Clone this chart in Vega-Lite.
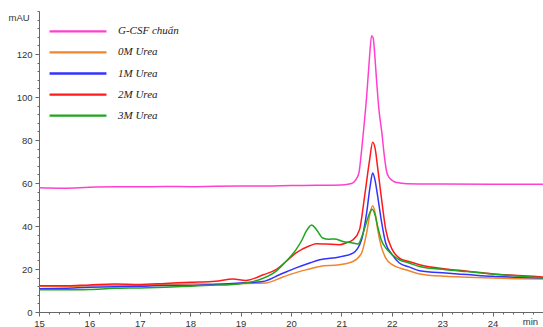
{
  "$schema": "https://vega.github.io/schema/vega-lite/v6.json",
  "width": 504,
  "height": 301,
  "autosize": {"type": "none"},
  "padding": {"left": 39, "top": 11, "right": 0, "bottom": 15},
  "background": "white",
  "config": {"view": {"stroke": null}},
  "data": {
    "values": [
      {"s":"G-CSF chuẩn","t":15,"v":57.8},{"s":"G-CSF chuẩn","t":15.5,"v":57.6},{"s":"G-CSF chuẩn","t":16,"v":58.0},{"s":"G-CSF chuẩn","t":16.5,"v":58.2},{"s":"G-CSF chuẩn","t":17,"v":58.2},{"s":"G-CSF chuẩn","t":17.5,"v":58.4},{"s":"G-CSF chuẩn","t":18,"v":58.3},{"s":"G-CSF chuẩn","t":18.5,"v":58.5},{"s":"G-CSF chuẩn","t":19,"v":58.6},{"s":"G-CSF chuẩn","t":19.5,"v":58.6},{"s":"G-CSF chuẩn","t":20,"v":58.8},{"s":"G-CSF chuẩn","t":20.5,"v":58.9},{"s":"G-CSF chuẩn","t":21,"v":59.1},{"s":"G-CSF chuẩn","t":21.2,"v":59.8},{"s":"G-CSF chuẩn","t":21.25,"v":60.5},{"s":"G-CSF chuẩn","t":21.3,"v":62},{"s":"G-CSF chuẩn","t":21.35,"v":65},{"s":"G-CSF chuẩn","t":21.4,"v":75},{"s":"G-CSF chuẩn","t":21.45,"v":87},{"s":"G-CSF chuẩn","t":21.5,"v":100},{"s":"G-CSF chuẩn","t":21.55,"v":116},{"s":"G-CSF chuẩn","t":21.6,"v":128.5},{"s":"G-CSF chuẩn","t":21.63,"v":127.5},{"s":"G-CSF chuẩn","t":21.67,"v":117},{"s":"G-CSF chuẩn","t":21.7,"v":107},{"s":"G-CSF chuẩn","t":21.75,"v":93},{"s":"G-CSF chuẩn","t":21.8,"v":84},{"s":"G-CSF chuẩn","t":21.85,"v":73},{"s":"G-CSF chuẩn","t":21.9,"v":65},{"s":"G-CSF chuẩn","t":21.95,"v":62.5},{"s":"G-CSF chuẩn","t":22.0,"v":61.3},{"s":"G-CSF chuẩn","t":22.05,"v":60.6},{"s":"G-CSF chuẩn","t":22.1,"v":60.2},{"s":"G-CSF chuẩn","t":22.3,"v":59.7},{"s":"G-CSF chuẩn","t":23,"v":59.5},{"s":"G-CSF chuẩn","t":24,"v":59.4},{"s":"G-CSF chuẩn","t":25,"v":59.4},

      {"s":"0M Urea","t":15,"v":12.0},{"s":"0M Urea","t":15.5,"v":12.0},{"s":"0M Urea","t":16,"v":12.2},{"s":"0M Urea","t":16.5,"v":12.5},{"s":"0M Urea","t":17,"v":12.5},{"s":"0M Urea","t":17.5,"v":12.8},{"s":"0M Urea","t":18,"v":13.0},{"s":"0M Urea","t":18.5,"v":13.0},{"s":"0M Urea","t":19,"v":13.2},{"s":"0M Urea","t":19.5,"v":13.5},{"s":"0M Urea","t":19.84,"v":16.3},{"s":"0M Urea","t":20.18,"v":18.9},{"s":"0M Urea","t":20.37,"v":20},{"s":"0M Urea","t":20.57,"v":21.2},{"s":"0M Urea","t":20.96,"v":22},{"s":"0M Urea","t":21.23,"v":23.5},{"s":"0M Urea","t":21.4,"v":27.4},{"s":"0M Urea","t":21.5,"v":36.7},{"s":"0M Urea","t":21.57,"v":46},{"s":"0M Urea","t":21.62,"v":49.4},{"s":"0M Urea","t":21.67,"v":46},{"s":"0M Urea","t":21.72,"v":38.3},{"s":"0M Urea","t":21.79,"v":30.5},{"s":"0M Urea","t":21.88,"v":25.1},{"s":"0M Urea","t":22.01,"v":22},{"s":"0M Urea","t":22.15,"v":20.5},{"s":"0M Urea","t":22.34,"v":19.2},{"s":"0M Urea","t":22.55,"v":17.7},{"s":"0M Urea","t":23.07,"v":16.6},{"s":"0M Urea","t":23.5,"v":16.2},{"s":"0M Urea","t":24,"v":15.8},{"s":"0M Urea","t":24.5,"v":15.5},{"s":"0M Urea","t":25,"v":15.3},

      {"s":"1M Urea","t":15,"v":10.8},{"s":"1M Urea","t":15.5,"v":11.0},{"s":"1M Urea","t":16,"v":11.5},{"s":"1M Urea","t":16.5,"v":11.8},{"s":"1M Urea","t":17,"v":12.0},{"s":"1M Urea","t":17.5,"v":12.3},{"s":"1M Urea","t":18,"v":12.3},{"s":"1M Urea","t":18.5,"v":12.8},{"s":"1M Urea","t":19,"v":13.5},{"s":"1M Urea","t":19.44,"v":14.2},{"s":"1M Urea","t":19.77,"v":17.3},{"s":"1M Urea","t":20.1,"v":20.5},{"s":"1M Urea","t":20.37,"v":22.8},{"s":"1M Urea","t":20.57,"v":24.3},{"s":"1M Urea","t":20.96,"v":25.6},{"s":"1M Urea","t":21.23,"v":27.4},{"s":"1M Urea","t":21.4,"v":33.6},{"s":"1M Urea","t":21.5,"v":46},{"s":"1M Urea","t":21.57,"v":58.4},{"s":"1M Urea","t":21.62,"v":64.6},{"s":"1M Urea","t":21.67,"v":61},{"s":"1M Urea","t":21.72,"v":53.8},{"s":"1M Urea","t":21.79,"v":42.9},{"s":"1M Urea","t":21.88,"v":32},{"s":"1M Urea","t":22.01,"v":26.6},{"s":"1M Urea","t":22.15,"v":22.8},{"s":"1M Urea","t":22.34,"v":21},{"s":"1M Urea","t":22.55,"v":19.2},{"s":"1M Urea","t":23.07,"v":18.1},{"s":"1M Urea","t":23.5,"v":17.4},{"s":"1M Urea","t":24,"v":16.6},{"s":"1M Urea","t":24.5,"v":16.2},{"s":"1M Urea","t":25,"v":15.8},

      {"s":"2M Urea","t":15,"v":12.2},{"s":"2M Urea","t":15.5,"v":12.2},{"s":"2M Urea","t":16,"v":12.6},{"s":"2M Urea","t":16.5,"v":13.0},{"s":"2M Urea","t":17,"v":12.8},{"s":"2M Urea","t":17.5,"v":13.3},{"s":"2M Urea","t":18,"v":13.8},{"s":"2M Urea","t":18.5,"v":14.3},{"s":"2M Urea","t":18.85,"v":15.3},{"s":"2M Urea","t":19.1,"v":14.7},{"s":"2M Urea","t":19.45,"v":17.3},{"s":"2M Urea","t":19.7,"v":19.7},{"s":"2M Urea","t":19.9,"v":23.5},{"s":"2M Urea","t":20.1,"v":27.5},{"s":"2M Urea","t":20.37,"v":30.8},{"s":"2M Urea","t":20.5,"v":31.8},{"s":"2M Urea","t":20.7,"v":31.6},{"s":"2M Urea","t":20.96,"v":31.3},{"s":"2M Urea","t":21.1,"v":32.2},{"s":"2M Urea","t":21.23,"v":33.6},{"s":"2M Urea","t":21.36,"v":38.3},{"s":"2M Urea","t":21.46,"v":53.8},{"s":"2M Urea","t":21.56,"v":70.8},{"s":"2M Urea","t":21.62,"v":78.9},{"s":"2M Urea","t":21.67,"v":76},{"s":"2M Urea","t":21.72,"v":67},{"s":"2M Urea","t":21.79,"v":53.8},{"s":"2M Urea","t":21.88,"v":38.3},{"s":"2M Urea","t":22.01,"v":29},{"s":"2M Urea","t":22.15,"v":25.1},{"s":"2M Urea","t":22.34,"v":23.5},{"s":"2M Urea","t":22.55,"v":22},{"s":"2M Urea","t":23.07,"v":20},{"s":"2M Urea","t":23.5,"v":19},{"s":"2M Urea","t":24,"v":17.7},{"s":"2M Urea","t":24.5,"v":17},{"s":"2M Urea","t":25,"v":16.3},

      {"s":"3M Urea","t":15,"v":10.4},{"s":"3M Urea","t":15.5,"v":10.3},{"s":"3M Urea","t":16,"v":10.5},{"s":"3M Urea","t":16.5,"v":11.0},{"s":"3M Urea","t":17,"v":11.2},{"s":"3M Urea","t":17.5,"v":11.5},{"s":"3M Urea","t":18,"v":12.0},{"s":"3M Urea","t":18.5,"v":12.5},{"s":"3M Urea","t":18.78,"v":12.7},{"s":"3M Urea","t":19.1,"v":13.5},{"s":"3M Urea","t":19.37,"v":15},{"s":"3M Urea","t":19.7,"v":18.9},{"s":"3M Urea","t":19.9,"v":23.5},{"s":"3M Urea","t":20.1,"v":29},{"s":"3M Urea","t":20.22,"v":33.6},{"s":"3M Urea","t":20.3,"v":37.5},{"s":"3M Urea","t":20.41,"v":40.5},{"s":"3M Urea","t":20.5,"v":38.5},{"s":"3M Urea","t":20.63,"v":34.4},{"s":"3M Urea","t":20.75,"v":33.8},{"s":"3M Urea","t":20.86,"v":34},{"s":"3M Urea","t":21.03,"v":32.8},{"s":"3M Urea","t":21.2,"v":32.2},{"s":"3M Urea","t":21.33,"v":31.6},{"s":"3M Urea","t":21.43,"v":36.7},{"s":"3M Urea","t":21.5,"v":42},{"s":"3M Urea","t":21.56,"v":46},{"s":"3M Urea","t":21.61,"v":47.8},{"s":"3M Urea","t":21.67,"v":45},{"s":"3M Urea","t":21.72,"v":39.8},{"s":"3M Urea","t":21.79,"v":33.6},{"s":"3M Urea","t":21.88,"v":29.8},{"s":"3M Urea","t":22.01,"v":26.6},{"s":"3M Urea","t":22.15,"v":24.3},{"s":"3M Urea","t":22.34,"v":22.8},{"s":"3M Urea","t":22.55,"v":21.2},{"s":"3M Urea","t":23.07,"v":19.7},{"s":"3M Urea","t":23.5,"v":18.8},{"s":"3M Urea","t":24,"v":17.7},{"s":"3M Urea","t":24.5,"v":16.7},{"s":"3M Urea","t":25,"v":15.8}
    ]
  },
  "mark": {"type": "line", "interpolate": "monotone", "strokeWidth": 1.5, "clip": true},
  "encoding": {
    "x": {
      "field": "t", "type": "quantitative",
      "scale": {"domain": [15, 25], "nice": false, "zero": false},
      "axis": {
        "title": null,
        "values": [15,15.2,15.4,15.6,15.8,16,16.2,16.4,16.6,16.8,17,17.2,17.4,17.6,17.8,18,18.2,18.4,18.6,18.8,19,19.2,19.4,19.6,19.8,20,20.2,20.4,20.6,20.8,21,21.2,21.4,21.6,21.8,22,22.2,22.4,22.6,22.8,23,23.2,23.4,23.6,23.8,24,24.2,24.4,24.6,24.8,25],
        "labelExpr": "abs(datum.value - 24.8) < 0.01 ? 'min' : (abs(datum.value - round(datum.value)) < 0.01 && datum.value < 24.9 ? format(datum.value, 'd') : '')",
        "labelOverlap": false,
        "labelFlush": false,
        "labelOffset": {"condition": {"test": "abs(datum.value - 24.8) < 0.01", "value": -3}, "value": 0},
        "tickSize": {"condition": {"test": "abs(datum.value - round(datum.value)) < 0.01", "value": 4}, "value": 2},
        "grid": false,
        "domainColor": "#666",
        "tickColor": "#666",
        "labelFont": "Liberation Sans",
        "labelFontSize": 9.5,
        "labelColor": "#333",
        "labelPadding": 2
      }
    },
    "y": {
      "field": "v", "type": "quantitative",
      "scale": {"domain": [0, 140], "nice": false},
      "axis": {
        "title": "mAU",
        "titleAngle": 0,
        "titleAlign": "left",
        "titleBaseline": "middle",
        "titleX": -31,
        "titleY": 6,
        "titleFont": "Liberation Sans",
        "titleFontSize": 9.5,
        "titleFontWeight": "normal",
        "titleColor": "#333",
        "values": [0,4,8,12,16,20,24,28,32,36,40,44,48,52,56,60,64,68,72,76,80,84,88,92,96,100,104,108,112,116,120,124,128,132,136,140],
        "labelExpr": "datum.value % 20 == 0 && datum.value < 140 ? datum.label : ''",
        "labelOverlap": false,
        "tickSize": {"condition": {"test": "datum.value % 20 == 0 && datum.value < 140", "value": 4}, "value": 2},
        "grid": false,
        "domainColor": "#666",
        "tickColor": "#666",
        "labelFont": "Liberation Sans",
        "labelFontSize": 9.5,
        "labelColor": "#333",
        "labelPadding": 3
      }
    },
    "color": {
      "field": "s", "type": "nominal",
      "scale": {
        "domain": ["G-CSF chuẩn", "0M Urea", "1M Urea", "2M Urea", "3M Urea"],
        "range": ["#ff40cf", "#f0852d", "#3333ff", "#ff1a1a", "#1fa51f"]
      },
      "legend": {
        "title": null,
        "orient": "none",
        "legendX": 33,
        "legendY": 14.3,
        "padding": 0,
        "symbolType": "M-6,0H6",
        "symbolSize": 90,
        "symbolStrokeWidth": 2.3,
        "labelFont": "Liberation Serif",
        "labelFontStyle": "italic",
        "labelFontSize": 11,
        "labelColor": "#222",
        "labelOffset": 34,
        "rowPadding": 10.1
      }
    }
  }
}
